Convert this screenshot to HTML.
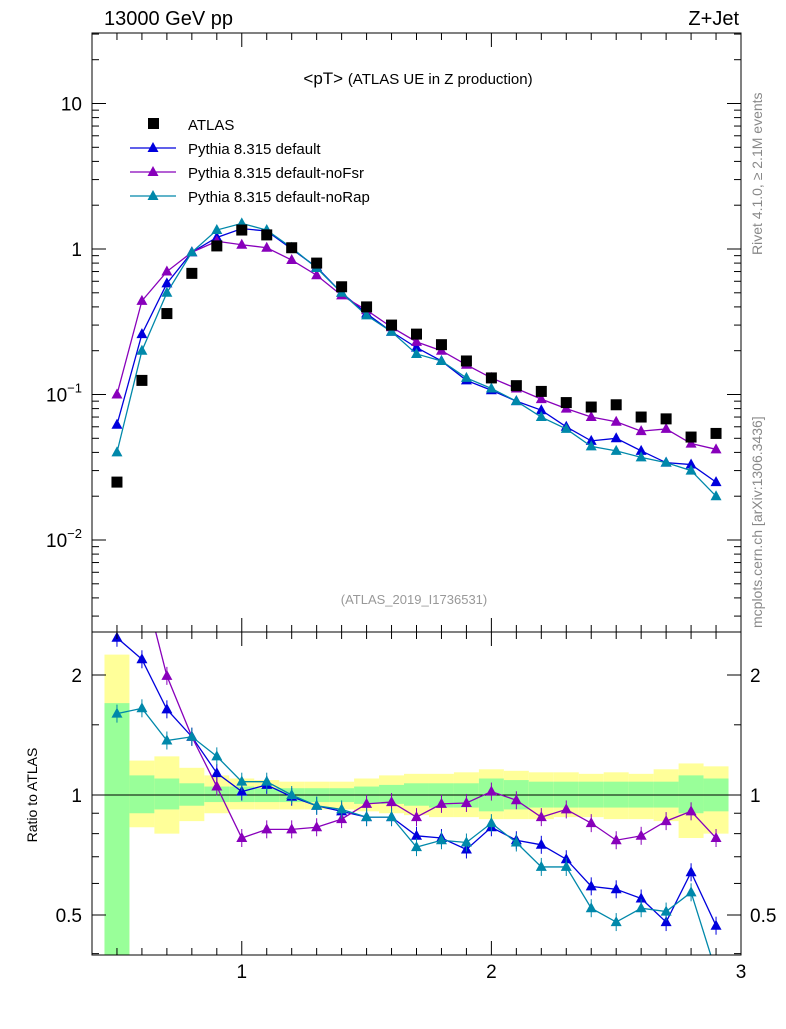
<!DOCTYPE html>
<html><head><meta charset="utf-8"><style>
body{margin:0;background:#fff;font-family:"Liberation Sans",sans-serif}
svg text{font-family:"Liberation Sans",sans-serif}
</style></head><body>
<svg id="c" width="786" height="1024" xmlns="http://www.w3.org/2000/svg">
<text x="104" y="25" font-size="20">13000 GeV pp</text>
<text x="739" y="25" font-size="20" text-anchor="end">Z+Jet</text>
<text x="418" y="84" font-size="17" text-anchor="middle">&lt;pT&gt; <tspan font-size="15">(ATLAS UE in Z production)</tspan></text>
<text x="414" y="604" font-size="13" fill="#999" text-anchor="middle">(ATLAS_2019_I1736531)</text>
<text transform="translate(762,255) rotate(-90)" font-size="14" fill="#888">Rivet 4.1.0, ≥ 2.1M events</text>
<text transform="translate(762,628) rotate(-90)" font-size="14" fill="#888">mcplots.cern.ch [arXiv:1306.3436]</text>
<text transform="translate(37,795) rotate(-90)" font-size="14" text-anchor="middle">Ratio to ATLAS</text>
<g id="g"></g>
</svg>
<script>
const xs=[0.5,0.6,0.7,0.8,0.9,1.0,1.1,1.2,1.3,1.4,1.5,1.6,1.7,1.8,1.9,2.0,2.1,2.2,2.3,2.4,2.5,2.6,2.7,2.8,2.9];
const atlas=[0.025,0.125,0.36,0.68,1.05,1.35,1.25,1.02,0.8,0.55,0.4,0.3,0.26,0.22,0.17,0.13,0.115,0.105,0.088,0.082,0.085,0.07,0.068,0.051,0.054];
const pyDef=[0.062,0.26,0.58,0.95,1.2,1.38,1.33,1.0,0.75,0.5,0.36,0.27,0.21,0.17,0.125,0.107,0.09,0.078,0.06,0.048,0.05,0.041,0.034,0.033,0.025];
const pyFsr=[0.1,0.44,0.7,0.95,1.13,1.07,1.02,0.84,0.66,0.48,0.38,0.29,0.23,0.2,0.16,0.13,0.11,0.093,0.08,0.07,0.065,0.056,0.058,0.046,0.042];
const pyRap=[0.04,0.2,0.5,0.95,1.35,1.5,1.35,1.02,0.74,0.5,0.35,0.27,0.19,0.17,0.13,0.11,0.09,0.07,0.058,0.044,0.041,0.037,0.034,0.03,0.02];
const rDef=[2.48,2.19,1.64,1.40,1.135,1.02,1.06,0.99,0.94,0.91,0.88,0.88,0.79,0.78,0.73,0.83,0.77,0.75,0.69,0.59,0.58,0.55,0.48,0.64,0.47];
const rFsr=[4.0,3.5,1.99,1.40,1.05,0.78,0.82,0.82,0.83,0.87,0.95,0.96,0.88,0.95,0.955,1.02,0.97,0.88,0.92,0.85,0.77,0.79,0.86,0.91,0.78];
const rRap=[1.6,1.65,1.37,1.40,1.25,1.08,1.08,1.0,0.94,0.92,0.88,0.88,0.74,0.77,0.76,0.85,0.76,0.66,0.66,0.52,0.48,0.52,0.51,0.57,0.36];
const yUp=[2.25,1.22,1.25,1.17,1.12,1.1,1.09,1.08,1.08,1.08,1.1,1.12,1.13,1.13,1.14,1.16,1.15,1.14,1.14,1.13,1.14,1.13,1.16,1.2,1.18];
const yLo=[0.3,0.83,0.8,0.86,0.9,0.92,0.92,0.92,0.92,0.92,0.91,0.9,0.89,0.88,0.88,0.87,0.87,0.87,0.88,0.88,0.87,0.87,0.86,0.78,0.8];
const gUp=[1.7,1.12,1.1,1.07,1.05,1.05,1.04,1.04,1.04,1.04,1.05,1.06,1.07,1.07,1.07,1.1,1.09,1.08,1.08,1.08,1.08,1.08,1.08,1.12,1.1];
const gLo=[0.3,0.9,0.92,0.94,0.96,0.96,0.96,0.96,0.96,0.96,0.95,0.95,0.94,0.93,0.93,0.91,0.92,0.93,0.93,0.93,0.93,0.93,0.93,0.9,0.91];
const xTicks=[1,2,3];
const NS="http://www.w3.org/2000/svg",G=document.getElementById('g');
const L=92,R=741,T=33,M=632,B=955;
const X=v=>L+(v-0.4)/(2.6)*(R-L);
const Y=v=>249-145.5*Math.log10(v);
const YR=v=>{let y=795-120*Math.log2(v);return y;};
function el(t,a,p){const e=document.createElementNS(NS,t);for(const k in a)e.setAttribute(k,a[k]);(p||G).appendChild(e);return e;}
// clip
const defs=el('defs',{});
const c1=el('clipPath',{id:'cm'},defs);el('rect',{x:L,y:T,width:R-L,height:M-T},c1);
const c2=el('clipPath',{id:'cr'},defs);el('rect',{x:L,y:M,width:R-L,height:B-M},c2);
const gm=el('g',{'clip-path':'url(#cm)'});
const gr=el('g',{'clip-path':'url(#cr)'});
// bands
xs.forEach((x,i)=>{
 const a=X(x-0.05),b=X(x+0.05);
 let r=el('rect',{x:a,y:YR(yUp[i]),width:b-a,height:YR(yLo[i])-YR(yUp[i]),fill:'#ffff99'},gr);
 
 r=el('rect',{x:a,y:YR(gUp[i]),width:b-a,height:YR(gLo[i])-YR(gUp[i]),fill:'#99ff99'},gr);
 
});
el('line',{x1:L,x2:R,y1:YR(1),y2:YR(1),stroke:'#000'},gr);
// series
function series(vals,fx,col,g,name){
 const p=el('polyline',{points:xs.map((x,i)=>X(x)+','+fx(vals[i])).join(' '),fill:'none',stroke:col,'stroke-width':1.3},g);
 
 xs.forEach((x,i)=>{const cx=X(x),cy=fx(vals[i]);
  const t=el('polygon',{points:`${cx},${cy-6} ${cx-5.5},${cy+4} ${cx+5.5},${cy+4}`,fill:col},g);
  
  if(g===gr){const e=el('line',{x1:cx,x2:cx,y1:cy-9,y2:cy+9,stroke:col},g);}
 });
}
series(pyDef,Y,'#0000dd',gm,'pythia-default');
series(pyFsr,Y,'#8800bb',gm,'pythia-nofsr');
series(pyRap,Y,'#0088aa',gm,'pythia-norap');
series(rDef,YR,'#0000dd',gr,'ratio-default');
series(rFsr,YR,'#8800bb',gr,'ratio-nofsr');
series(rRap,YR,'#0088aa',gr,'ratio-norap');
xs.forEach((x,i)=>{const r=el('rect',{x:X(x)-5.5,y:Y(atlas[i])-5.5,width:11,height:11,fill:'#000'},gm);
 });
// frames
el('rect',{x:L,y:T,width:R-L,height:M-T,fill:'none',stroke:'#000'});
el('rect',{x:L,y:M,width:R-L,height:B-M,fill:'none',stroke:'#000'});
// y ticks main
for(let d=-3;d<=1;d++){for(let k=1;k<10;k++){const v=k*Math.pow(10,d);const y=Y(v);if(y<T||y>M)continue;const len=k==1?14:7;
 el('line',{x1:L,x2:L+len,y1:y,y2:y,stroke:'#000'});el('line',{x1:R,x2:R-len,y1:y,y2:y,stroke:'#000'});}}
[[10,'10'],[1,'1']].forEach(([v,s])=>el('text',{x:82,y:Y(v)+7,'font-size':19,'text-anchor':'end'}).textContent=s);
[[0.1,'−1'],[0.01,'−2']].forEach(([v,s])=>{const t=el('text',{x:82,y:Y(v)+7,'font-size':19,'text-anchor':'end'});t.innerHTML='10<tspan dy="-9" font-size="13">'+s+'</tspan>';});
// ratio y ticks
[0.4,0.5,0.6,0.7,0.8,0.9,1,1.5,2].forEach(v=>{const y=YR(v);if(y<M||y>B)return;const len=(v==0.5||v==1||v==2)?14:7;
 el('line',{x1:L,x2:L+len,y1:y,y2:y,stroke:'#000'});el('line',{x1:R,x2:R-len,y1:y,y2:y,stroke:'#000'});});
[[2,'2'],[1,'1'],[0.5,'0.5']].forEach(([v,s])=>{el('text',{x:82,y:YR(v)+7,'font-size':19,'text-anchor':'end'}).textContent=s;el('text',{x:750,y:YR(v)+7,'font-size':19}).textContent=s;});
// x ticks
for(let v=0.4;v<=3.001;v+=0.1){const x=X(v);const maj=Math.abs(v-Math.round(v))<1e-6;const len=maj?14:7;
 [T,M].forEach(y0=>el('line',{x1:x,x2:x,y1:y0,y2:y0+len,stroke:'#000'}));
 [M,B].forEach(y0=>el('line',{x1:x,x2:x,y1:y0,y2:y0-len,stroke:'#000'}));}
xTicks.forEach(v=>el('text',{x:X(v),y:978,'font-size':19,'text-anchor':'middle'}).textContent=v);
// legend
const leg=[['ATLAS','#000',0],['Pythia 8.315 default','#0000dd',1],['Pythia 8.315 default-noFsr','#8800bb',1],['Pythia 8.315 default-noRap','#0088aa',1]];
leg.forEach((l,i)=>{const y=124+i*24;const lg=el('g',{});
 if(!l[2])el('rect',{x:148,y:y-6,width:11,height:11,fill:'#000'},lg);
 else{el('line',{x1:130,x2:176,y1:y,y2:y,stroke:l[1],'stroke-width':1.3},lg);el('polygon',{points:`153,${y-6} 147.5,${y+4} 158.5,${y+4}`,fill:l[1]},lg);}
 el('text',{x:188,y:y+6,'font-size':15},lg).textContent=l[0];});
</script>
</body></html>
